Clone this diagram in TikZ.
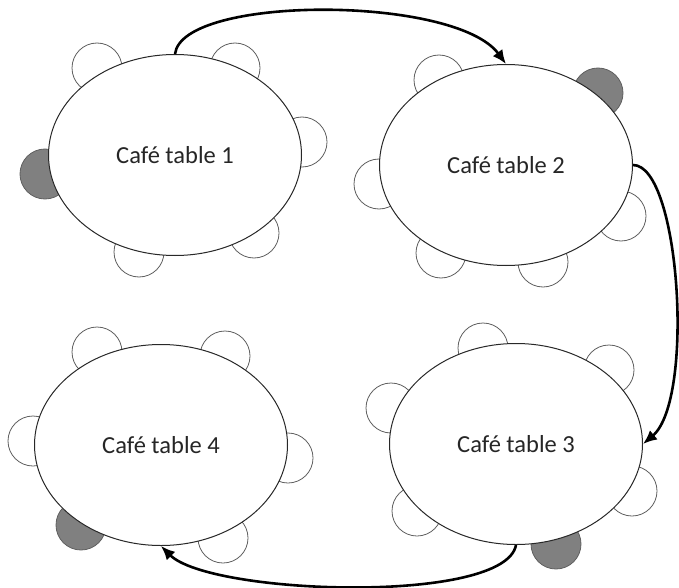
\documentclass[tikz,border=0pt]{standalone}
\usepackage{fontspec}
\setmainfont{Carlito}
\usetikzlibrary{shapes.geometric,arrows.meta}
\definecolor{seatgray}{RGB}{128,128,128}
\definecolor{tableline}{RGB}{40,40,40}
\definecolor{seatline}{RGB}{95,95,95}
\tikzset{
  cafetable/.style={ellipse, draw=tableline, line width=1pt, fill=white,
    minimum width=253pt, minimum height=201pt, inner sep=0pt,
    font=\fontsize{24.5}{28}\selectfont, text=black!85},
  seat/.style={circle, draw=seatline, line width=0.8pt, fill=white,
    minimum size=50pt, inner sep=0pt},
  takenseat/.style={seat, fill=seatgray},
  route/.style={line width=2.6pt, -{Latex[length=14pt,width=12pt]}}
}
\begin{document}
\begin{tikzpicture}[x=1pt,y=-1pt]
\useasboundingbox (0,0) rectangle (679,588);
% seats table 1
\node[seat] (s11) at (97,68) {};
\node[seat] (s12) at (235,68) {};
\node[seat] (s13) at (302,142) {};
\node[takenseat] (s14) at (45,174) {};
\node[seat] (s15) at (139,252) {};
\node[seat] (s16) at (254,233) {};
% seats table 2
\node[seat] (s21) at (439,80) {};
\node[takenseat] (s22) at (598,93) {};
\node[seat] (s23) at (379,184) {};
\node[seat] (s24) at (621,216) {};
\node[seat] (s25) at (441,253) {};
\node[seat] (s26) at (543,262) {};
% seats table 3
\node[seat] (s31) at (483,348) {};
\node[seat] (s32) at (609,370) {};
\node[seat] (s33) at (391,408) {};
\node[seat] (s34) at (632,491) {};
\node[seat] (s35) at (417,511) {};
\node[takenseat] (s36) at (556,544) {};
% seats table 4
\node[seat] (s41) at (97,352) {};
\node[seat] (s42) at (225,356) {};
\node[seat] (s43) at (33,441) {};
\node[seat] (s44) at (288,458) {};
\node[takenseat] (s45) at (81,525) {};
\node[seat] (s46) at (223,538) {};
% tables
\node[cafetable] (t1) at (175,155) {Café table 1};
\node[cafetable] (t2) at (506,165) {Café table 2};
\node[cafetable] (t3) at (516,444) {Café table 3};
\node[cafetable] (t4) at (161,445) {Café table 4};
% routes
\draw[route] (t1.north) .. controls (182,-5) and (455,-5) .. (t2.north);
\draw[route] (t2.east) .. controls (680,165) and (695,400) .. (t3.east);
\draw[route] (t3.south) .. controls (505,605) and (210,595) .. (t4.south);
\end{tikzpicture}
\end{document}
